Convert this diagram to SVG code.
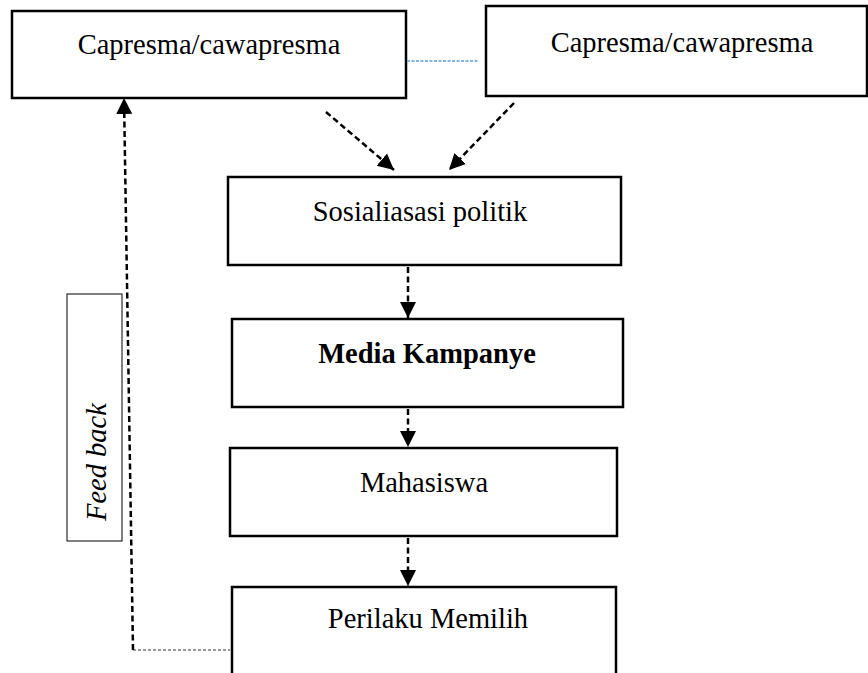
<svg xmlns="http://www.w3.org/2000/svg" width="868" height="673" viewBox="0 0 868 673">
<defs>
<marker id="ah" markerUnits="userSpaceOnUse" markerWidth="18" markerHeight="18" viewBox="0 0 18 18" refX="16" refY="9" orient="auto">
<path d="M0,1 L16,9 L0,17 Z" fill="#000"/>
</marker>
<style>
.box{fill:#fff;stroke:#000;stroke-width:2.5}
.t{font-family:"Liberation Serif","Times New Roman",serif;font-size:28.5px;fill:#000;text-anchor:middle}
.b{font-weight:bold}
.c{fill:none;stroke:#000;stroke-width:2.5;stroke-dasharray:6 3.5}
</style>
</defs>
<rect width="868" height="673" fill="#fff"/>
<g id="capresma1">
<rect class="box" x="12" y="11" width="394" height="87"/>
<text class="t" x="209" y="54">Capresma/cawapresma</text>
</g>
<g id="capresma2">
<rect class="box" x="486" y="6" width="381" height="90"/>
<text class="t" x="682" y="52">Capresma/cawapresma</text>
</g>
<g id="sosialisasi">
<rect class="box" x="228" y="177" width="393" height="88"/>
<text class="t" x="420" y="221">Sosialiasasi politik</text>
</g>
<g id="media">
<rect class="box" x="232" y="319" width="391" height="88"/>
<text class="t b" x="427" y="363">Media Kampanye</text>
</g>
<g id="mahasiswa">
<rect class="box" x="230" y="448" width="387" height="88"/>
<text class="t" x="424" y="492">Mahasiswa</text>
</g>
<g id="perilaku">
<rect class="box" x="232" y="587" width="384" height="100"/>
<text class="t" x="428" y="628">Perilaku Memilih</text>
</g>
<g id="feedback">
<rect x="67" y="294" width="55" height="247" fill="#fff" stroke="#000" stroke-width="1"/>
<text class="t" font-style="italic" style="text-anchor:start" transform="translate(106,521) rotate(-90)">Feed back</text>
</g>
<g id="connectors">
<line x1="407" y1="61" x2="478" y2="61" stroke="#5b9bd5" stroke-width="1.5" stroke-dasharray="3 1.5"/>
<line class="c" x1="326" y1="112" x2="394" y2="170" marker-end="url(#ah)"/>
<line class="c" x1="514" y1="103" x2="449" y2="170" marker-end="url(#ah)"/>
<line class="c" x1="408" y1="267" x2="408" y2="318" marker-end="url(#ah)"/>
<line class="c" x1="408" y1="409" x2="408" y2="447" marker-end="url(#ah)"/>
<line class="c" x1="408" y1="538" x2="408" y2="586" marker-end="url(#ah)"/>
<line x1="133" y1="650" x2="230" y2="650" stroke="#333" stroke-width="1.2" stroke-dasharray="3 2"/>
<line class="c" x1="133" y1="650" x2="124" y2="98" marker-end="url(#ah)"/>
</g>
</svg>
